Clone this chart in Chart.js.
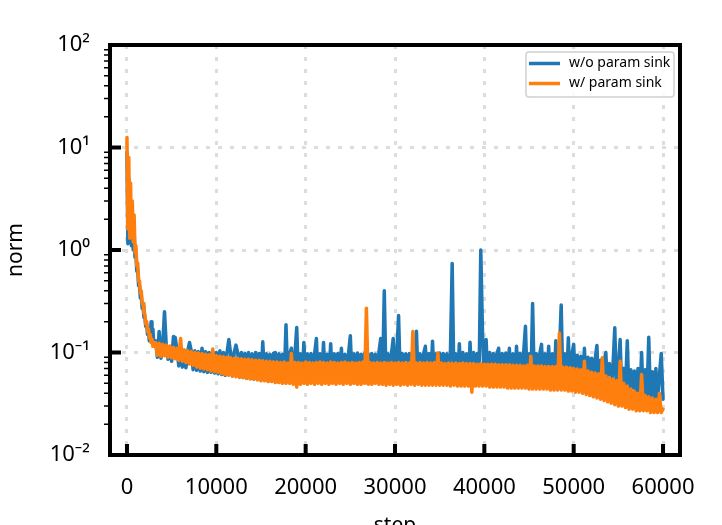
<!DOCTYPE html>
<html><head><meta charset="utf-8">
<script src="https://cdn.jsdelivr.net/npm/chart.js@4"></script>
<style>html,body{margin:0;padding:0;background:#fff;}#wrap{width:722px;height:525px;position:relative;}</style>
</head><body><div id="wrap"><canvas id="c"></canvas></div>
<script>
const steps = [0,100,200,300,400,500,600,700,800,900,1000,1100,1200,1300,1400,1500,1600,1700,1800,1900,2000,2100,2200,2300,2400,2500,2600,2700,2800,2900,3000,
3200,3400,3600,3800,4000,4200,4400,4600,4800,5000,
5200,5400,5600,5800,6000,6200,6400,6600,6800,7000,
7200,7400,7600,7800,8000,8200,8400,8600,8800,9000,
9200,9400,9600,9800,10000,10200,10400,10600,10800,11000,
11200,11400,11600,11800,12000,12200,12400,12600,12800,13000,
13200,13400,13600,13800,14000,14200,14400,14600,14800,15000,
15200,15400,15600,15800,16000,16200,16400,16600,16800,17000,
17200,17400,17600,17800,18000,18200,18400,18600,18800,19000,
19200,19400,19600,19800,20000,20200,20400,20600,20800,21000,
21200,21400,21600,21800,22000,22200,22400,22600,22800,23000,
23200,23400,23600,23800,24000,24200,24400,24600,24800,25000,
25200,25400,25600,25800,26000,26200,26400,26600,26800,27000,
27200,27400,27600,27800,28000,28200,28400,28600,28800,29000,
29200,29400,29600,29800,30000,30200,30400,30600,30800,31000,
31200,31400,31600,31800,32000,32200,32400,32600,32800,33000,
33200,33400,33600,33800,34000,34200,34400,34600,34800,35000,
35200,35400,35600,35800,36000,36200,36400,36600,36800,37000,
37200,37400,37600,37800,38000,38200,38400,38600,38800,39000,
39200,39400,39600,39800,40000,40200,40400,40600,40800,41000,
41200,41400,41600,41800,42000,42200,42400,42600,42800,43000,
43200,43400,43600,43800,44000,44200,44400,44600,44800,45000,
45200,45400,45600,45800,46000,46200,46400,46600,46800,47000,
47200,47400,47600,47800,48000,48200,48400,48600,48800,49000,
49200,49400,49600,49800,50000,50200,50400,50600,50800,51000,
51200,51400,51600,51800,52000,52200,52400,52600,52800,53000,
53200,53400,53600,53800,54000,54200,54400,54600,54800,55000,
55200,55400,55600,55800,56000,56200,56400,56600,56800,57000,
57200,57400,57600,57800,58000,58200,58400,58600,58800,59000,
59200,59400,59600,59800,60000];

const normWithoutSink = [9.0,1.15,5.0,1.2,3.0,1.1,2.0,1.0,1.5,0.85,0.9,0.62,0.65,0.45,0.45,0.34,0.36,0.27,0.28,0.22,0.22,0.18,0.19,0.15,0.16,0.13,0.14,0.2,0.13,0.17,0.12,
0.13,0.09,0.16,0.088,0.12,0.25,0.115,0.086,0.11,0.082,
0.143,0.14,0.105,0.074,0.11,0.072,0.105,0.071,0.104,0.125,
0.103,0.068,0.104,0.067,0.102,0.066,0.11,0.065,0.102,0.064,
0.1,0.064,0.102,0.063,0.1,0.062,0.104,0.061,0.1,0.06,
0.1,0.134,0.098,0.059,0.1,0.118,0.098,0.058,0.1,0.057,
0.098,0.056,0.1,0.056,0.097,0.055,0.1,0.055,0.098,0.054,
0.127,0.054,0.097,0.053,0.096,0.053,0.098,0.1,0.052,0.097,
0.052,0.096,0.052,0.187,0.052,0.097,0.11,0.052,0.096,0.175,
0.052,0.097,0.052,0.125,0.052,0.097,0.051,0.098,0.052,0.096,
0.137,0.051,0.097,0.051,0.125,0.051,0.096,0.051,0.122,0.051,
0.097,0.051,0.098,0.051,0.11,0.051,0.096,0.051,0.097,0.146,
0.051,0.097,0.051,0.099,0.051,0.096,0.051,0.098,0.051,0.097,
0.051,0.098,0.051,0.096,0.051,0.1,0.137,0.051,0.4,0.051,
0.097,0.051,0.096,0.137,0.05,0.097,0.229,0.05,0.098,0.05,
0.097,0.05,0.098,0.05,0.097,0.05,0.161,0.05,0.097,0.05,
0.097,0.115,0.05,0.098,0.05,0.129,0.05,0.097,0.05,0.099,
0.05,0.098,0.05,0.097,0.05,0.096,0.74,0.05,0.097,0.05,
0.122,0.05,0.1,0.049,0.097,0.049,0.126,0.049,0.1,0.049,
0.098,0.049,1.0,0.15,0.049,0.134,0.049,0.1,0.048,0.098,
0.048,0.097,0.11,0.048,0.098,0.048,0.099,0.048,0.11,0.048,
0.097,0.048,0.115,0.048,0.098,0.047,0.1,0.18,0.047,0.097,
0.047,0.3,0.047,0.098,0.047,0.097,0.12,0.047,0.097,0.046,
0.115,0.046,0.097,0.046,0.13,0.046,0.098,0.29,0.045,0.097,
0.045,0.139,0.045,0.096,0.12,0.044,0.094,0.044,0.092,0.043,
0.11,0.042,0.09,0.041,0.088,0.04,0.086,0.117,0.04,0.084,
0.039,0.082,0.1,0.038,0.078,0.037,0.075,0.174,0.036,0.072,
0.134,0.035,0.07,0.045,0.13,0.034,0.068,0.045,0.066,0.033,
0.07,0.033,0.1,0.033,0.068,0.034,0.141,0.033,0.065,0.033,
0.07,0.033,0.06,0.098,0.035];

const normWithSink = [12.5,1.6,8.0,1.3,4.5,1.4,3.0,1.2,2.2,0.95,1.1,0.7,0.75,0.5,0.5,0.38,0.4,0.3,0.3,0.24,0.24,0.19,0.2,0.16,0.17,0.14,0.15,0.125,0.135,0.115,0.125,
0.125,0.094,0.123,0.092,0.12,0.093,0.118,0.09,0.116,0.089,
0.112,0.087,0.11,0.084,0.137,0.082,0.106,0.08,0.104,0.077,
0.102,0.075,0.1,0.072,0.099,0.07,0.098,0.069,0.096,0.068,
0.095,0.066,0.108,0.065,0.093,0.064,0.092,0.062,0.091,0.061,
0.09,0.06,0.089,0.059,0.088,0.058,0.088,0.057,0.087,0.057,
0.086,0.056,0.086,0.055,0.085,0.055,0.084,0.054,0.084,0.053,
0.083,0.053,0.082,0.052,0.082,0.052,0.081,0.051,0.081,0.051,
0.08,0.05,0.081,0.05,0.079,0.05,0.098,0.049,0.08,0.046,
0.08,0.049,0.079,0.05,0.081,0.049,0.08,0.05,0.079,0.049,
0.08,0.05,0.081,0.049,0.08,0.05,0.079,0.049,0.081,0.05,
0.08,0.049,0.079,0.05,0.08,0.049,0.081,0.05,0.079,0.049,
0.08,0.05,0.079,0.049,0.08,0.049,0.081,0.05,0.27,0.049,
0.08,0.049,0.079,0.05,0.08,0.049,0.079,0.049,0.08,0.048,
0.079,0.049,0.08,0.048,0.079,0.049,0.08,0.048,0.079,0.049,
0.08,0.048,0.079,0.049,0.16,0.048,0.079,0.049,0.08,0.048,
0.079,0.048,0.08,0.048,0.079,0.048,0.08,0.048,0.099,0.048,
0.079,0.048,0.078,0.048,0.079,0.047,0.078,0.048,0.079,0.047,
0.078,0.047,0.079,0.047,0.078,0.047,0.078,0.041,0.078,0.047,
0.077,0.047,0.078,0.047,0.077,0.047,0.077,0.046,0.077,0.046,
0.077,0.046,0.076,0.046,0.076,0.046,0.076,0.045,0.076,0.045,
0.075,0.045,0.075,0.045,0.075,0.045,0.074,0.045,0.075,0.044,
0.092,0.044,0.074,0.044,0.074,0.044,0.074,0.044,0.073,0.044,
0.073,0.043,0.073,0.043,0.073,0.043,0.155,0.043,0.072,0.043,
0.072,0.042,0.071,0.042,0.07,0.041,0.069,0.041,0.068,0.04,
0.082,0.039,0.066,0.038,0.064,0.037,0.063,0.036,0.062,0.035,
0.089,0.034,0.059,0.033,0.057,0.032,0.055,0.031,0.053,0.03,
0.082,0.03,0.05,0.029,0.047,0.028,0.044,0.028,0.042,0.027,
0.04,0.027,0.061,0.027,0.038,0.027,0.037,0.026,0.036,0.026,
0.035,0.026,0.04,0.026,0.028];

const seriesLabels = ['w/o param sink', 'w/ param sink'];
const seriesColors = ['#1f77b4', '#ff7f0e'];
const xTickValues = [0,10000,20000,30000,40000,50000,60000];
const yTickValues = [0.01,0.1,1,10,100];
const yTickLabels = ['10\u207B\u00B2','10\u207B\u00B9','10\u2070','10\u00B9','10\u00B2'];
const yMinorMultipliers = [2,3,4,5,6,7,8,9];
const xAxisTitle = 'step';
const yAxisTitle = 'norm';

const FONT = "'Noto Sans', 'DejaVu Sans', sans-serif";

const framePlugin = {
  id: 'frame',
  afterDraw(chart) {
    const {ctx, chartArea: a, scales: {x, y}} = chart;
    ctx.save();
    ctx.strokeStyle = '#000';
    ctx.lineWidth = 4;
    ctx.strokeRect(a.left, a.top, a.right - a.left, a.bottom - a.top);
    ctx.beginPath();
    x.ticks.forEach(t => {
      const px = x.getPixelForValue(t.value);
      ctx.moveTo(px, a.bottom); ctx.lineTo(px, a.bottom - 11);
    });
    y.ticks.forEach(t => {
      const py = y.getPixelForValue(t.value);
      ctx.moveTo(a.left, py); ctx.lineTo(a.left + 11, py);
    });
    ctx.stroke();
    ctx.lineWidth = 1.5;
    ctx.beginPath();
    for (let d = 0; d < yTickValues.length - 1; d++) {
      yMinorMultipliers.forEach(m => {
        const py = y.getPixelForValue(yTickValues[d] * m);
        ctx.moveTo(a.left - 6, py); ctx.lineTo(a.left, py);
      });
    }
    ctx.stroke();
    // legend
    const bw = 148, bh = 45;
    const bx = a.right - 6 - bw, by = a.top + 7;
    ctx.beginPath();
    ctx.roundRect(bx, by, bw, bh, 3);
    ctx.fillStyle = 'rgba(255,255,255,0.85)';
    ctx.fill();
    ctx.strokeStyle = '#d0d0d0';
    ctx.lineWidth = 1.5;
    ctx.stroke();
    ctx.font = "14px " + FONT;
    ctx.textBaseline = 'middle';
    ctx.textAlign = 'left';
    chart.data.datasets.forEach((ds, i) => {
      const ly = by + 11.5 + i * 20;
      ctx.strokeStyle = ds.borderColor;
      ctx.lineWidth = 3.5;
      ctx.beginPath();
      ctx.moveTo(bx + 3, ly); ctx.lineTo(bx + 34, ly);
      ctx.stroke();
      ctx.fillStyle = '#000';
      ctx.fillText(ds.label, bx + 43, ly);
    });
    ctx.restore();
  }
};

new Chart(document.getElementById('c'), {
  type: 'line',
  data: {
    datasets: [0, 1].map(k => ({
      label: seriesLabels[k],
      data: steps.map((s, i) => ({x: s, y: (k === 0 ? normWithoutSink : normWithSink)[i]})),
      borderColor: seriesColors[k],
      backgroundColor: seriesColors[k],
      borderWidth: 3.5,
      pointRadius: 0,
      tension: 0,
      borderJoinStyle: 'round',
      borderCapStyle: 'round',
      fill: false,
      order: 1 - k
    }))
  },
  options: {
    responsive: true,
    maintainAspectRatio: false,
    animation: false,
    layout: {padding: {left: 0, right: 42, top: 45, bottom: 0}},
    plugins: {legend: {display: false}, tooltip: {enabled: false}},
    scales: {
      x: {
        type: 'linear', min: -1900, max: 61900,
        afterBuildTicks: s => { s.ticks = xTickValues.map(v => ({value: v})); },
        afterFit: s => { s.height = 70; },
        ticks: {font: {family: FONT, size: 22}, color: '#000', padding: 20, maxRotation: 0, minRotation: 0, autoSkip: false, callback: v => String(v)},
        grid: {color: '#dddddd', lineWidth: 3, drawTicks: false},
        border: {display: false, dash: [4, 8]},
        title: {display: true, text: xAxisTitle, color: '#000', font: {family: FONT, size: 21}, padding: {top: 0, bottom: -14}}
      },
      y: {
        type: 'logarithmic', min: 0.01, max: 100,
        afterBuildTicks: s => { s.ticks = yTickValues.map(v => ({value: v, major: true})); },
        afterFit: s => { s.width = 110; },
        ticks: {font: {family: FONT, size: 22}, color: '#000', padding: 20, autoSkip: false, callback: v => yTickLabels[yTickValues.indexOf(v)]},
        grid: {color: '#dddddd', lineWidth: 3, drawTicks: false},
        border: {display: false, dash: [4, 8]},
        title: {display: true, text: yAxisTitle, color: '#000', font: {family: FONT, size: 21}, padding: {top: 3, bottom: 0}}
      }
    }
  },
  plugins: [framePlugin]
});
</script>
</body></html>
